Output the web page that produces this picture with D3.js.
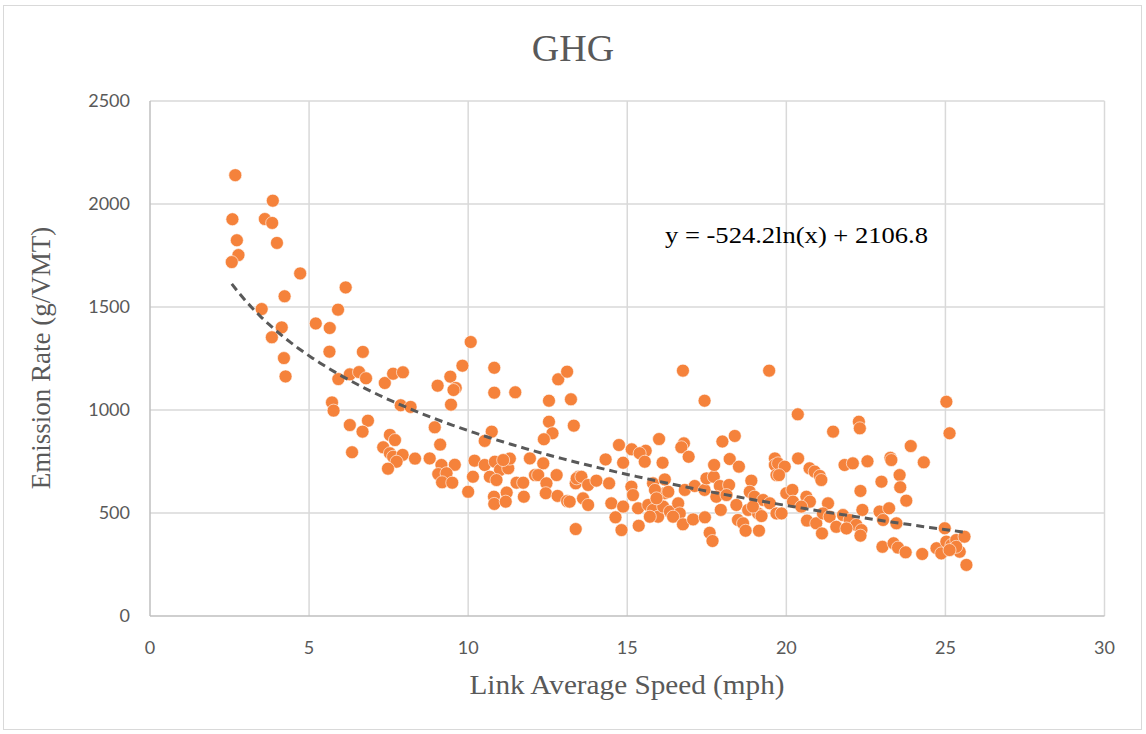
<!DOCTYPE html>
<html><head><meta charset="utf-8">
<script src="https://cdn.jsdelivr.net/npm/d3@7"></script>
<style>html,body{margin:0;padding:0;background:#fff;}svg{display:block;}</style>
</head><body>
<script>
const title = "GHG";
const xTitle = "Link Average Speed (mph)";
const yTitle = "Emission Rate (g/VMT)";
const xTicks = [0,5,10,15,20,25,30];
const yTicks = [0,500,1000,1500,2000,2500];
const trendA = -524.2, trendB = 2106.8;
const trendLabel = "y = -524.2ln(x) + 2106.8";
const speed = [
2.68,3.86,2.59,3.61,3.84,2.73,3.99,2.78,2.57,4.72,6.15,4.23,3.51,5.91,5.21,5.65,4.14,3.83,5.64,6.69,4.21,9.82,4.26,5.92,6.28,6.57,6.79,7.38,7.64,7.95,9.04,9.44,9.61,9.54,10.08,5.72,5.77,7.88,8.19,9.46,8.95,9.12,6.28,6.85,6.68,6.35,7.54,7.70,7.33,7.54,7.64,7.94,7.75,7.48,8.33,8.79,9.16,9.58,9.06,9.32,9.18,9.50,10.0,
10.82,10.82,11.48,12.54,13.23,12.83,13.11,12.54,13.32,12.65,12.38,10.74,10.52,10.20,10.15,10.52,10.84,11.0,10.68,10.89,11.26,11.31,11.10,10.81,10.82,11.21,11.18,11.52,11.73,11.75,11.94,12.36,12.10,12.2,12.46,12.78,12.44,12.81,13.11,13.38,13.46,13.38,
16.75,19.46,17.43,14.74,15.14,15.58,15.39,15.55,14.87,16.0,16.11,14.32,13.41,13.56,13.77,14.03,14.43,13.19,13.61,13.77,14.5,14.87,14.63,14.82,15.13,15.18,15.36,15.34,15.66,15.81,15.97,15.71,16.13,16.34,16.18,16.29,16.6,16.65,16.44,15.81,15.87,16.18,15.92,16.75,17.07,17.44,17.59,17.68,16.78,16.70,16.93,16.81,17.12,17.43,17.49,17.72,17.73,17.99,18.38,18.22,18.51,17.91,18.2,17.8,18.12,18.43,17.94,18.9,18.85,19.0,19.27,19.48,18.8,19.11,19.22,18.95,18.48,18.64,18.72,19.14,19.64,19.64,19.69,19.69,
20.36,21.47,22.28,22.31,25.03,25.13,19.74,19.95,19.77,20.37,20.73,20.89,21.05,21.1,21.83,22.09,22.55,23.27,23.3,23.91,24.32,22.99,23.56,23.58,23.77,22.33,20.0,20.19,20.63,20.74,20.21,20.47,19.85,21.31,20.65,20.94,21.12,21.15,21.36,21.78,21.99,22.2,22.36,22.33,21.57,21.89,22.39,22.93,23.23,23.04,23.46,23.02,23.37,23.51,23.75,24.27,24.98,24.72,24.87,25.03,25.19,25.34,25.45,25.6,25.66,25.34,25.13
];
const emission = [
2140,2016,1926,1927,1908,1824,1811,1752,1718,1663,1595,1552,1490,1487,1420,1398,1401,1353,1283,1282,1252,1215,1163,1150,1173,1184,1154,1131,1176,1183,1118,1162,1107,1097,1330,1037,997,1023,1015,1026,916,832,927,948,895,795,879,854,819,790,773,782,749,715,764,765,733,734,689,693,649,647,603,
1205,1084,1086,1045,1052,1149,1186,943,924,887,858,895,850,754,676,733,749,709,676,660,717,764,757,579,544,599,555,647,647,579,765,741,684,684,644,684,596,583,558,644,676,422,
1191,1191,1045,830,809,802,790,749,744,859,744,760,668,676,636,657,644,555,571,539,547,531,479,417,628,587,438,523,539,515,482,482,531,507,596,603,547,498,482,644,612,663,571,445,469,479,404,364,838,819,773,612,631,612,668,676,733,847,874,762,725,631,636,579,587,539,515,657,603,579,563,547,515,498,485,531,466,450,414,414,765,733,684,498,
979,895,943,911,1040,887,741,725,684,765,717,701,680,660,733,741,751,768,757,825,746,652,684,625,560,607,596,612,579,555,555,531,498,547,463,450,401,498,482,490,466,442,417,390,433,425,515,507,523,466,450,336,353,332,309,301,426,329,304,361,345,369,312,385,248,336,320
];

const W = 1146, H = 734;
const svg = d3.select("body").append("svg").attr("width", W).attr("height", H);
svg.append("rect").attr("x",0).attr("y",0).attr("width",W).attr("height",H).attr("fill","#fff");
svg.append("rect").attr("x",3.5).attr("y",5.5).attr("width",1138).attr("height",724)
  .attr("fill","none").attr("stroke","#D9D9D9").attr("stroke-width",1);

const L = 150, R = 1104.5, T = 101, B = 616;
const x = d3.scaleLinear().domain([0,30]).range([L,R]);
const y = d3.scaleLinear().domain([0,2500]).range([B,T]);

const grid = svg.append("g");
grid.selectAll("line.v").data(xTicks.slice(1)).join("line")
  .attr("x1",d=>x(d)).attr("x2",d=>x(d)).attr("y1",T).attr("y2",B)
  .attr("stroke","#D9D9D9").attr("stroke-width",1.5);
grid.selectAll("line.h").data(yTicks.slice(1)).join("line")
  .attr("x1",L).attr("x2",R).attr("y1",d=>y(d)).attr("y2",d=>y(d))
  .attr("stroke","#D9D9D9").attr("stroke-width",1.5);
svg.append("line").attr("x1",L).attr("x2",L).attr("y1",T).attr("y2",B).attr("stroke","#BFBFBF").attr("stroke-width",1.5);
svg.append("line").attr("x1",L).attr("x2",R).attr("y1",B).attr("y2",B).attr("stroke","#BFBFBF").attr("stroke-width",1.5);

const tickFont = "Lato, 'Liberation Sans', sans-serif";
svg.append("g").selectAll("text").data(yTicks).join("text")
  .attr("x",130).attr("y",d=>y(d)).attr("dy","0.35em").attr("text-anchor","end")
  .attr("font-family",tickFont).attr("font-size",18).attr("fill","#595959").text(d=>d);
svg.append("g").selectAll("text").data(xTicks).join("text")
  .attr("x",d=>x(d)).attr("y",654).attr("text-anchor","middle")
  .attr("font-family",tickFont).attr("font-size",18).attr("fill","#595959").text(d=>d);

const serif = "'Liberation Serif', 'Times New Roman', serif";
svg.append("text").attr("x",573).attr("y",61).attr("text-anchor","middle")
  .attr("font-family",serif).attr("font-size",38).attr("fill","#595959").text(title);
svg.append("text").attr("x",627).attr("y",694).attr("text-anchor","middle")
  .attr("font-family",serif).attr("font-size",27).attr("fill","#595959")
  .attr("textLength",315).attr("lengthAdjust","spacingAndGlyphs").text(xTitle);
svg.append("text").attr("transform","translate(50,358) rotate(-90)").attr("text-anchor","middle")
  .attr("font-family",serif).attr("font-size",27).attr("fill","#595959").text(yTitle);

const pts = speed.map((s,i)=>({s, e: emission[i]}));
svg.append("g").selectAll("circle").data(pts).join("circle")
  .attr("cx",d=>x(d.s)).attr("cy",d=>y(d.e)).attr("r",6.5)
  .attr("fill","#F5823B").attr("stroke","#fff").attr("stroke-width",0.6);

const xmin = d3.min(speed), xmax = d3.max(speed);
const trend = d3.range(0,101).map(i=>{const v = xmin + (xmax-xmin)*i/100; return [v, trendA*Math.log(v)+trendB];});
svg.append("path").datum(trend)
  .attr("d", d3.line().x(d=>x(d[0])).y(d=>y(d[1])))
  .attr("fill","none").attr("stroke","#595959").attr("stroke-width",3).attr("stroke-dasharray","8,5");

svg.append("text").attr("x",665).attr("y",243)
  .attr("font-family",serif).attr("font-size",23).attr("fill","#000")
  .attr("textLength",263).attr("lengthAdjust","spacingAndGlyphs").text(trendLabel);
</script>
</body></html>
